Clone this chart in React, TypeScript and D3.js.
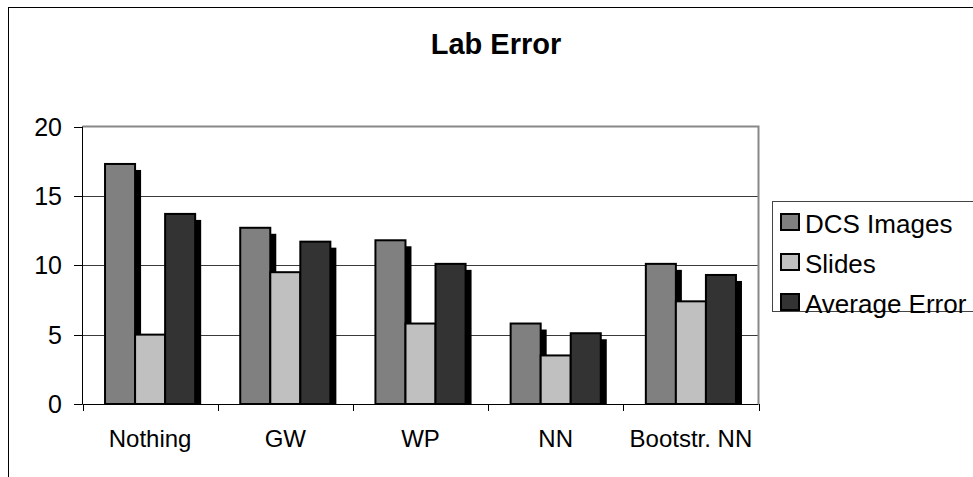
import React, { useEffect, useRef } from "react";
import * as d3 from "d3";

// chart data
const categories = ["Nothing", "GW", "WP", "NN", "Bootstr. NN"];
const seriesNames = ["DCS Images", "Slides", "Average Error"];
const dcsImages = [17.3, 12.7, 11.8, 5.8, 10.1];
const slides = [5.0, 9.5, 5.8, 3.5, 7.4];
const averageError = [13.7, 11.7, 10.1, 5.1, 9.3];
const yTicks = [0, 5, 10, 15, 20];

const seriesValues = [dcsImages, slides, averageError];
const seriesColors = ["#808080", "#c0c0c0", "#333333"];

export default function App() {
  const ref = useRef<SVGSVGElement>(null);

  useEffect(() => {
    const width = 973;
    const height = 477;
    const font = "'Liberation Sans', Arial, sans-serif";

    const svg = d3.select(ref.current);
    svg.selectAll("*").remove();

    // outer chart frame (runs off the right and bottom of the picture)
    svg.append("rect")
      .attr("x", 8.5).attr("y", 7.5)
      .attr("width", 1000).attr("height", 500)
      .attr("fill", "white").attr("stroke", "black").attr("stroke-width", 1);

    // title
    svg.append("text")
      .attr("x", 496).attr("y", 54)
      .attr("text-anchor", "middle")
      .style("font-family", font).style("font-size", "29px").style("font-weight", "bold")
      .text("Lab Error");

    var left = 82.5, right = 758.5, top = 126.5, bottom = 404;

    var x = d3.scaleBand().domain(categories).range([left, right]).padding(0);
    var xs = d3.scaleBand().domain(seriesNames).range([0, x.bandwidth()])
      .paddingInner(0).paddingOuter(0.75);
    var y = d3.scaleLinear().domain([0, 20]).range([bottom, top]);

    // gridlines
    svg.append("g").selectAll("line")
      .data(yTicks.filter(d => d > 0 && d < 20))
      .enter().append("line")
      .attr("x1", left).attr("x2", right)
      .attr("y1", d => Math.round(y(d)) + 0.5).attr("y2", d => Math.round(y(d)) + 0.5)
      .attr("stroke", "#3a3a3a").attr("stroke-width", 1);

    // plot area border (top + right, grey)
    svg.append("path")
      .attr("d", `M${left},${top} H${right} V${bottom}`)
      .attr("fill", "none").attr("stroke", "#888").attr("stroke-width", 2);

    // bars with a black drop shadow
    var clip = svg.append("clipPath").attr("id", "plotclip");
    clip.append("rect").attr("x", left).attr("y", 0).attr("width", right - left + 20).attr("height", bottom);

    var groups = svg.append("g").attr("clip-path", "url(#plotclip)")
      .selectAll("g").data(categories).enter().append("g")
      .attr("transform", d => "translate(" + x(d) + ",0)");

    groups.each(function (cat, i) {
      var g = d3.select(this);
      seriesNames.forEach(function (s, j) {
        var v = seriesValues[j][i];
        var bx = xs(s) as number;
        g.append("rect")
          .attr("x", bx + 6).attr("y", y(v) + 6)
          .attr("width", xs.bandwidth()).attr("height", bottom - y(v))
          .attr("fill", "black");
        g.append("rect")
          .attr("x", bx).attr("y", y(v))
          .attr("width", xs.bandwidth()).attr("height", bottom - y(v))
          .attr("fill", seriesColors[j]).attr("stroke", "black").attr("stroke-width", 2);
      });
    });

    // y axis
    svg.append("line")
      .attr("x1", left).attr("x2", left).attr("y1", top).attr("y2", bottom)
      .attr("stroke", "black").attr("stroke-width", 1);
    svg.append("g").selectAll("line").data(yTicks).enter().append("line")
      .attr("x1", 74).attr("x2", left)
      .attr("y1", d => Math.round(y(d)) + 0.5).attr("y2", d => Math.round(y(d)) + 0.5)
      .attr("stroke", "black");
    svg.append("g").selectAll("text").data(yTicks).enter().append("text")
      .attr("x", 62).attr("y", d => y(d))
      .attr("dy", "0.36em")
      .attr("text-anchor", "end")
      .style("font-family", font).style("font-size", "25px")
      .text(d => d);

    // x axis
    svg.append("line")
      .attr("x1", left).attr("x2", right).attr("y1", bottom + 0.5).attr("y2", bottom + 0.5)
      .attr("stroke", "black").attr("stroke-width", 1);
    var edges = categories.map(c => x(c) as number).concat([right]);
    svg.append("g").selectAll("line").data(edges).enter().append("line")
      .attr("x1", d => Math.round(d) + 0.5).attr("x2", d => Math.round(d) + 0.5)
      .attr("y1", bottom).attr("y2", bottom + 7)
      .attr("stroke", "black");
    svg.append("g").selectAll("text").data(categories).enter().append("text")
      .attr("x", d => (x(d) as number) + x.bandwidth() / 2)
      .attr("y", 447)
      .attr("text-anchor", "middle")
      .style("font-family", font).style("font-size", "24px")
      .text(d => d);

    // legend
    svg.append("rect")
      .attr("x", 772.5).attr("y", 201.5).attr("width", 260).attr("height", 110)
      .attr("fill", "white").attr("stroke", "#444").attr("stroke-width", 1);
    var rowY = [222, 262, 302];
    seriesNames.forEach(function (s, j) {
      svg.append("rect")
        .attr("x", 781).attr("y", rowY[j] - 8)
        .attr("width", 18).attr("height", 16)
        .attr("fill", seriesColors[j]).attr("stroke", "black").attr("stroke-width", 2);
      svg.append("text")
        .attr("x", 805).attr("y", rowY[j] + 11)
        .style("font-family", font).style("font-size", "26px")
        .text(s);
    });
  }, []);

  return (
    <svg ref={ref} width={973} height={477}
      style={{ position: "absolute", left: 0, top: 0, background: "white" }} />
  );
}
